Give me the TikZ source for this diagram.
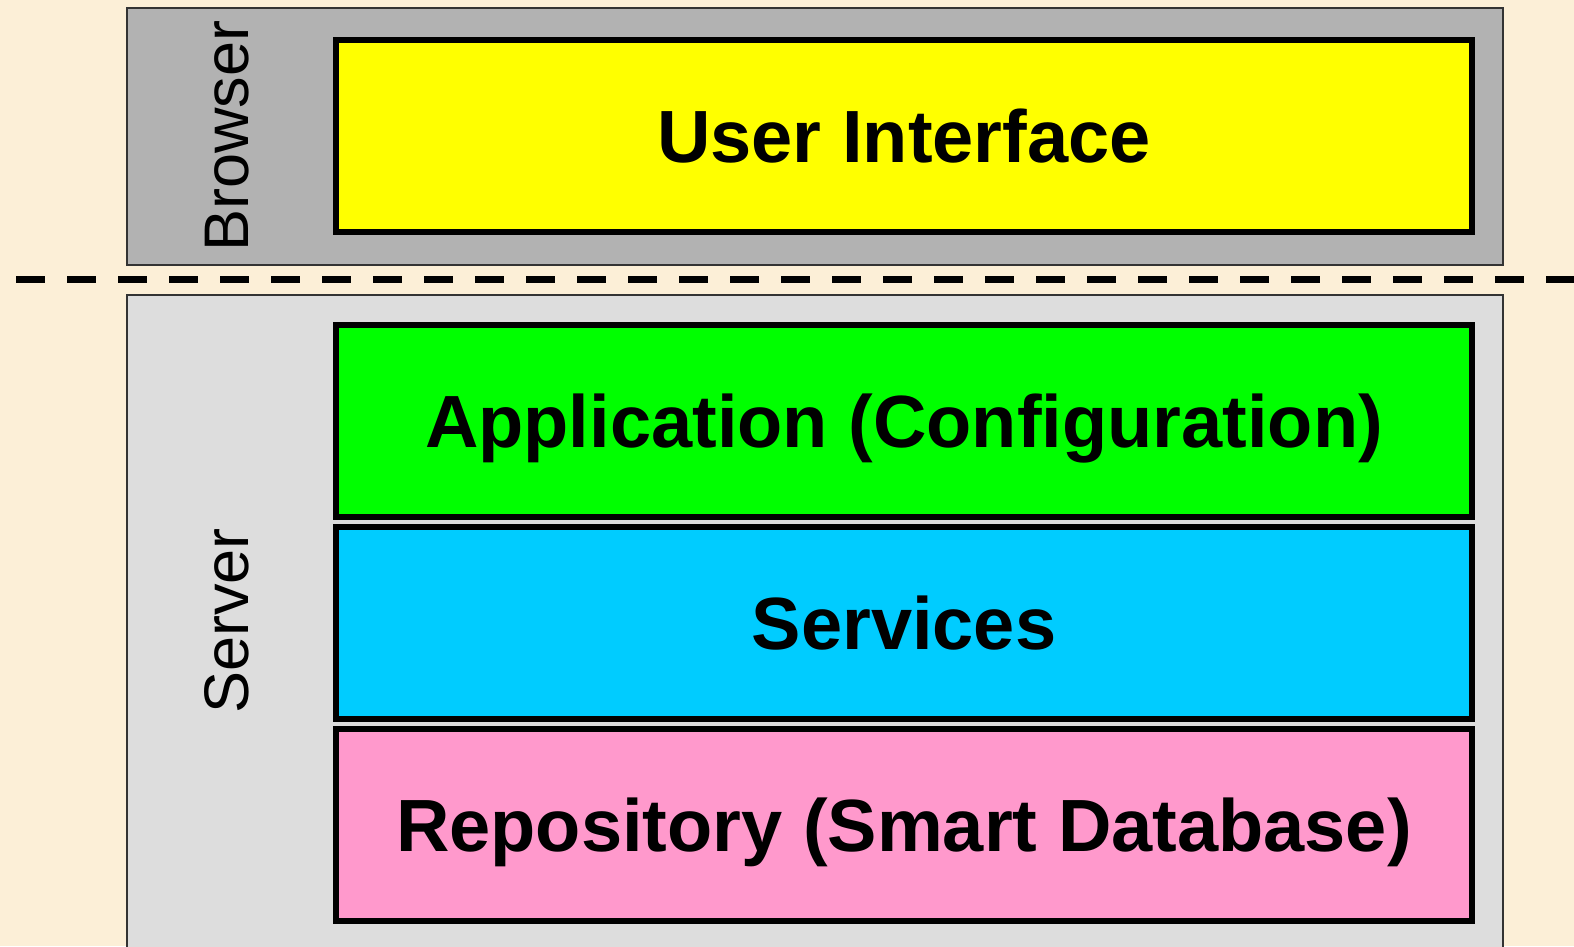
\documentclass[tikz,border=0pt]{standalone}
\usepackage{fontspec}
\setmainfont{Liberation Sans}
\usetikzlibrary{positioning}
\definecolor{parchment}{HTML}{FCEFD7}
\definecolor{browsergray}{HTML}{B2B2B2}
\definecolor{servergray}{HTML}{DDDDDD}
\definecolor{uiyellow}{HTML}{FFFF00}
\definecolor{appgreen}{HTML}{00FF00}
\definecolor{svcblue}{HTML}{00CCFF}
\definecolor{repopink}{HTML}{FF99CC}
\tikzset{
  tier/.style={draw=black!80,line width=2pt,inner sep=0pt,minimum width=1376pt},
  layer/.style={draw=black,line width=6pt,inner sep=0pt,minimum width=1136pt,minimum height=192pt,
    text height=53pt,text depth=0pt,font=\fontsize{74}{80}\selectfont\bfseries},
  side/.style={rotate=90,anchor=base,font=\fontsize{63}{70}\selectfont},
  cut/.style={line width=7pt,dash pattern=on 29pt off 22pt}
}
\def\lx{904}

\begin{document}
\begin{tikzpicture}[x=1pt,y=-1pt]
  \useasboundingbox (0,0) rectangle (1574,946);
  \fill[parchment] (0,0) rectangle (1574,946);
  \clip (0,0) rectangle (1574,946);

  % Tiers
  \node[tier,fill=browsergray,minimum height=257pt] (browser) at (815,136.5) {};
  \node[tier,fill=servergray,minimum height=665pt] (server) at (815,627.5) {};
  \node[side] (browserlabel) at (248,136) {Browser};
  \node[side] (serverlabel) at (248,621) {Server};

  % Cut between client and server
  \coordinate (cutl) at (16,279);
  \coordinate (cutr) at (1574,279);
  \draw[cut] (cutl) -- (cutr);

  % Layers
  \node[layer,fill=uiyellow] (ui) at (\lx,136) {User Interface};
  \node[layer,fill=appgreen] (app) at (\lx,421) {Application (Configuration)};
  \node[layer,fill=svcblue,below=4pt of app] (services) {Services};
  \node[layer,fill=repopink,below=4pt of services] (repo) {Repository (Smart Database)};
\end{tikzpicture}
\end{document}
